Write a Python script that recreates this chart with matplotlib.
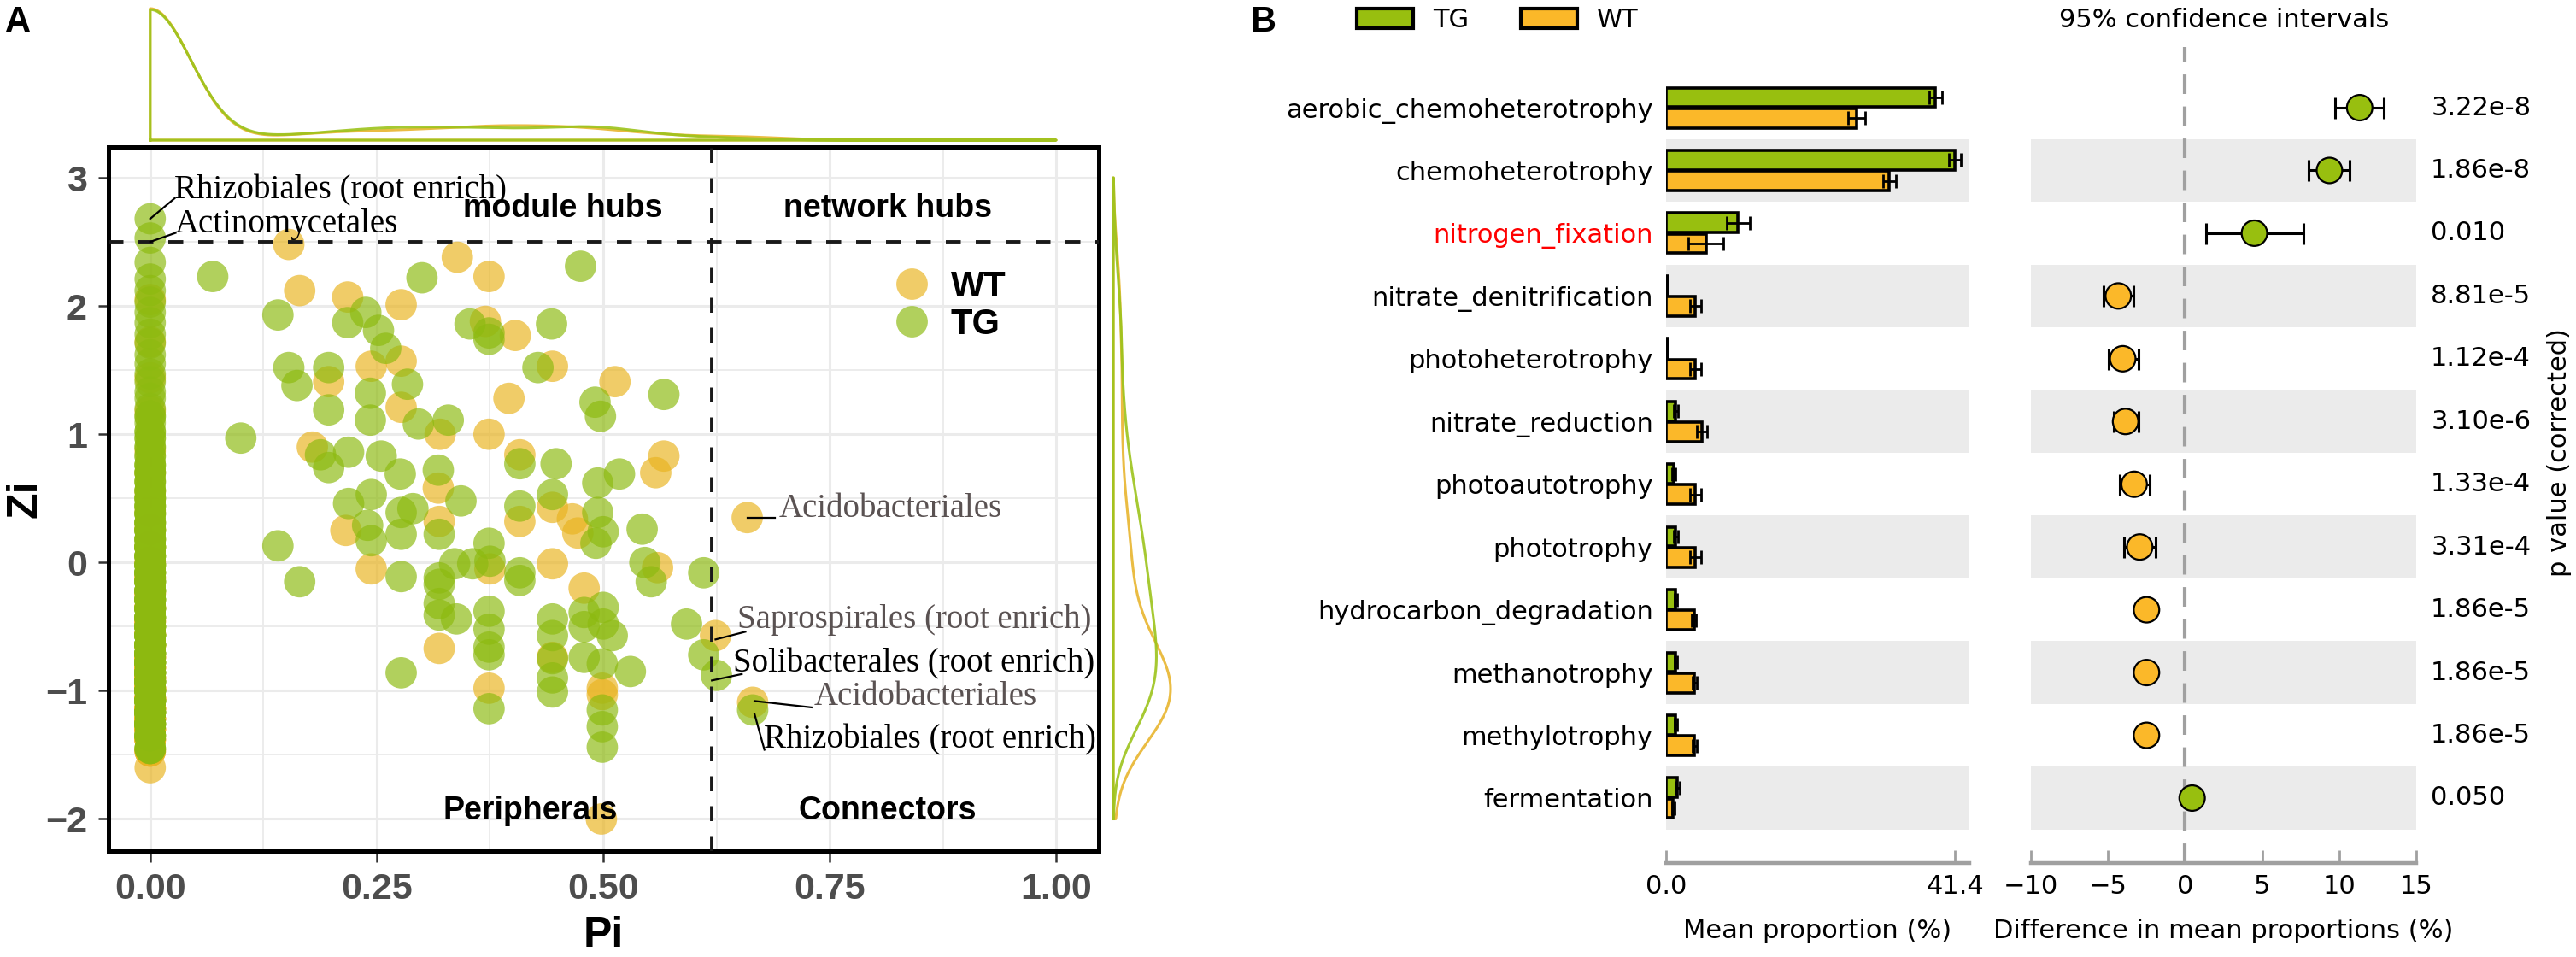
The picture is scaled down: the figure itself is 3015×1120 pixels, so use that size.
import numpy as np
import matplotlib
matplotlib.use('Agg')
import matplotlib.pyplot as plt
from matplotlib.patches import Patch
from matplotlib.lines import Line2D
import matplotlib.transforms as mtrans

# ---------------- data panel A (Zi-Pi plot) ----------------
# nodes with Pi > 0
tg_pi = [0.069, 0.141, 0.238, 0.218, 0.252, 0.260, 0.153, 0.162, 0.197, 0.243,
         0.284, 0.197, 0.243, 0.296, 0.100, 0.188, 0.197, 0.219, 0.255, 0.276,
         0.244, 0.219, 0.300,
         0.475, 0.353, 0.374, 0.374, 0.443, 0.428, 0.567, 0.491, 0.497, 0.329,
         0.408, 0.448, 0.318, 0.343, 0.494, 0.518, 0.444, 0.408,
         0.141, 0.165, 0.240, 0.244, 0.277, 0.277, 0.290, 0.277, 0.277,
         0.319, 0.494, 0.500, 0.492, 0.543, 0.374, 0.336, 0.356, 0.375, 0.408,
         0.408, 0.319, 0.319, 0.546, 0.553, 0.611, 0.319, 0.319, 0.338, 0.374,
         0.374, 0.374, 0.374, 0.374, 0.444, 0.444, 0.444, 0.444, 0.444, 0.479,
         0.479, 0.479, 0.500, 0.500, 0.510, 0.499, 0.530, 0.499, 0.499, 0.499,
         0.592, 0.611, 0.625, 0.665]
tg_zi = [2.23, 1.93, 1.95, 1.87, 1.81, 1.67, 1.52, 1.38, 1.52, 1.32,
         1.39, 1.19, 1.11, 1.08, 0.97, 0.84, 0.74, 0.86, 0.83, 0.69,
         0.53, 0.46, 2.22,
         2.31, 1.86, 1.79, 1.74, 1.86, 1.52, 1.31, 1.25, 1.14, 1.11,
         0.77, 0.77, 0.72, 0.48, 0.62, 0.69, 0.53, 0.44,
         0.13, -0.15, 0.29, 0.17, 0.22, 0.39, 0.42, -0.11, -0.86,
         0.22, 0.39, 0.24, 0.15, 0.26, 0.15, -0.01, -0.01, 0.01, -0.08,
         -0.14, -0.12, -0.17, 0.00, -0.15, -0.08, -0.32, -0.41, -0.44, -0.38,
         -0.52, -0.66, -0.72, -1.14, -0.44, -0.57, -0.75, -0.90, -1.01, -0.39,
         -0.50, -0.74, -0.35, -0.48, -0.57, -0.79, -0.85, -1.15, -1.28, -1.44,
         -0.48, -0.72, -0.88, -1.15]

wt_pi = [0.153, 0.165, 0.218, 0.277, 0.277, 0.244, 0.197, 0.277, 0.179, 0.339,
         0.374, 0.370, 0.403, 0.444, 0.396, 0.513, 0.320, 0.374, 0.408, 0.318,
         0.558, 0.567, 0.216, 0.244, 0.319, 0.408, 0.444, 0.466, 0.472, 0.375,
         0.444, 0.479, 0.560, 0.319, 0.374, 0.444, 0.499, 0.499, 0.624, 0.659,
         0.665, 0.498]
wt_zi = [2.48, 2.12, 2.07, 2.01, 1.57, 1.53, 1.41, 1.21, 0.90, 2.38,
         2.23, 1.88, 1.77, 1.53, 1.28, 1.41, 1.00, 1.00, 0.84, 0.58,
         0.70, 0.83, 0.25, -0.05, 0.32, 0.32, 0.43, 0.34, 0.23, -0.05,
         -0.01, -0.20, -0.04, -0.67, -0.98, -0.74, -0.98, -1.03, -0.57, 0.35,
         -1.09, -2.00]

# nodes with Pi = 0 (the solid column): Zi level and how many nodes share it
tg_zero_z = [2.68, 2.53, 2.34, 2.21, 2.12, 2.03, 1.95, 1.87, 1.78, 1.71, 1.62,
             1.55, 1.47, 1.41, 1.33, 1.28, 1.2, 1.14, 1.09, 1.02, 0.97, 0.9,
             0.83, 0.76, 0.7, 0.63, 0.56, 0.5, 0.44, 0.38, 0.31, 0.25, 0.18,
             0.12, 0.05, -0.02, -0.08, -0.15, -0.22, -0.29, -0.36, -0.43, -0.5,
             -0.57, -0.64, -0.71, -0.78, -0.86, -0.93, -1.0, -1.08, -1.17,
             -1.26, -1.35, -1.45]
tg_zero_n = [1, 1, 1, 1, 1, 1, 1, 1, 1, 1, 1,
             1, 1, 1, 1, 1, 1, 2, 1, 2, 2, 2,
             2, 3, 3, 3, 3, 4, 4, 4, 5, 5, 5,
             6, 6, 6, 7, 7, 7, 8, 8, 8, 9,
             9, 10, 10, 11, 11, 12, 12, 12, 11,
             9, 6, 3]
wt_zero_z = [2.05, 1.72, 1.44, 1.18, 0.87, 0.7, 0.55, 0.4, 0.26, 0.12, 0.0,
             -0.12, -0.24, -0.35, -0.46, -0.56, -0.65, -0.74, -0.82, -0.9,
             -0.98, -1.06, -1.14, -1.22, -1.3, -1.38, -1.47, -1.6]
wt_zero_n = [1, 1, 1, 1, 1, 1, 1, 1, 2, 2, 2,
             3, 3, 4, 4, 5, 6, 7, 8, 9,
             10, 10, 10, 9, 7, 5, 3, 1]

# labelled nodes: text, node (pi, zi), line end, text pos, colour
labels_a = [
    ("Rhizobiales (root enrich)", (0.0, 2.68), (0.027, 2.84), (0.027, 2.90), 'black'),
    ("Actinomycetales", (0.0, 2.50), (0.028, 2.57), (0.027, 2.64), 'black'),
    ("Acidobacteriales", (0.659, 0.35), (0.690, 0.35), (0.694, 0.42), '#5a5252'),
    ("Saprospirales (root enrich)", (0.624, -0.60), (0.657, -0.54), (0.648, -0.45), '#5a5252'),
    ("Solibacterales (root enrich)", (0.620, -0.92), (0.653, -0.87), (0.643, -0.79), 'black'),
    ("Acidobacteriales", (0.667, -1.08), (0.730, -1.13), (0.733, -1.05), '#5a5252'),
    ("Rhizobiales (root enrich)", (0.667, -1.18), (0.678, -1.46), (0.677, -1.38), 'black'),
]

# ---------------- data panel B (STAMP) ----------------
funcs = ['aerobic_chemoheterotrophy', 'chemoheterotrophy', 'nitrogen_fixation',
         'nitrate_denitrification', 'photoheterotrophy', 'nitrate_reduction',
         'photoautotrophy', 'phototrophy', 'hydrocarbon_degradation',
         'methanotrophy', 'methylotrophy', 'fermentation']
tg_mean = [38.6, 41.4, 10.3, 0.2, 0.2, 1.4, 1.1, 1.4, 1.4, 1.4, 1.4, 1.6]
tg_sd = [0.9, 0.9, 1.65, 0.1, 0.1, 0.3, 0.3, 0.3, 0.2, 0.2, 0.2, 0.3]
wt_mean = [27.3, 32.0, 5.7, 4.2, 4.2, 5.1, 4.2, 4.2, 4.0, 4.1, 4.1, 1.0]
wt_sd = [1.2, 0.9, 2.55, 0.8, 0.8, 0.75, 0.8, 0.8, 0.3, 0.3, 0.3, 0.2]
diff = [11.33, 9.37, 4.5, -4.33, -4.04, -3.86, -3.3, -2.94, -2.5, -2.5, -2.5, 0.46]
ci_lo = [9.75, 8.0, 1.38, -5.3, -4.96, -4.6, -4.24, -3.95, -2.75, -2.75, -2.75, 0.3]
ci_hi = [12.9, 10.67, 7.67, -3.37, -3.03, -3.03, -2.3, -1.93, -2.25, -2.25, -2.25, 0.62]
pvals = ['3.22e-8', '1.86e-8', '0.010', '8.81e-5', '1.12e-4', '3.10e-6',
         '1.33e-4', '3.31e-4', '1.86e-5', '1.86e-5', '1.86e-5', '0.050']

# ---------------- figure ----------------
W, H = 3015, 1120
fig = plt.figure(figsize=(W / 100, H / 100), dpi=100)


def box(x0, y0, x1, y1):
    # pixel box (top-left origin) -> figure rect
    return [x0 / W, 1 - y1 / H, (x1 - x0) / W, (y1 - y0) / H]


SANS = 'Liberation Sans'
tg_col = '#8DBA10'
wt_col = '#E9B420'
tg_line = '#9CC31B'
wt_line = '#E8B52E'

pi_tg = np.concatenate([np.zeros(sum(tg_zero_n)), tg_pi])
zi_tg = np.concatenate([np.repeat(tg_zero_z, tg_zero_n), tg_zi])
pi_wt = np.concatenate([np.zeros(sum(wt_zero_n)), wt_pi])
zi_wt = np.concatenate([np.repeat(wt_zero_z, wt_zero_n), wt_zi])

xlim_a = (-0.046, 1.047)
ylim_a = (-2.25, 3.24)

ax = fig.add_axes(box(127, 172, 1286, 996))
ax.scatter(pi_wt, zi_wt, s=700, color=wt_col, alpha=0.68, edgecolors='none', zorder=2)
ax.scatter(pi_tg, zi_tg, s=700, color=tg_col, alpha=0.68, edgecolors='none', zorder=3)
ax.set_xlim(*xlim_a)
ax.set_ylim(*ylim_a)
ax.set_xticks([0, 0.25, 0.5, 0.75, 1.0])
ax.set_xticklabels(['0.00', '0.25', '0.50', '0.75', '1.00'])
ax.set_yticks([-2, -1, 0, 1, 2, 3])
ax.set_xticks([0.125, 0.375, 0.625, 0.875], minor=True)
ax.set_yticks([-1.5, -0.5, 0.5, 1.5, 2.5], minor=True)
ax.set_axisbelow(True)
ax.grid(which='major', color='#EBEBEB', lw=2.2)
ax.grid(which='minor', color='#EBEBEB', lw=1.3)
ax.tick_params(which='minor', length=0)
ax.tick_params(which='major', direction='out', length=9, width=1.8, color='#333333',
               labelsize=31, labelcolor='#4D4D4D', pad=9)
for t in ax.get_xticklabels() + ax.get_yticklabels():
    t.set_fontfamily(SANS)
    t.set_fontweight('bold')
for s in ax.spines.values():
    s.set_linewidth(3.6)
    s.set_color('black')

ax.axhline(2.5, color='#1a1a1a', lw=2.8, dashes=(4.5, 4.5), zorder=4)
ax.axvline(0.62, color='#1a1a1a', lw=2.8, dashes=(4.5, 4.5), zorder=4)

qfont = dict(family=SANS, weight='bold', size=27, ha='center', va='center', zorder=5)
ax.text(0.455, 2.76, 'module hubs', **qfont)
ax.text(0.814, 2.76, 'network hubs', **qfont)
ax.text(0.42, -1.94, 'Peripherals', **qfont)
ax.text(0.814, -1.94, 'Connectors', **qfont)

for txt, pt, end, tp, c in labels_a:
    ax.plot([pt[0], end[0]], [pt[1], end[1]], color='black', lw=1.6, zorder=6)
    ax.text(tp[0], tp[1], txt, family='Liberation Serif', size=28, color=c,
            ha='left', va='center', zorder=6)

handles = [Line2D([], [], marker='o', ls='', ms=26.5, mfc=wt_col, mec='none', alpha=0.68),
           Line2D([], [], marker='o', ls='', ms=26.5, mfc=tg_col, mec='none', alpha=0.68)]
ax.legend(handles, ['WT', 'TG'], loc='center left', bbox_to_anchor=(0.793, 0.7745),
          frameon=False, borderpad=0, borderaxespad=0, handlelength=1.0,
          handletextpad=0.6, labelspacing=0.1,
          prop=dict(family=SANS, weight='bold', size=30))

fig.text(29 / W, 1 - 584 / H, 'Zi', rotation=90, ha='center', va='center',
         family=SANS, weight='bold', size=36)
fig.text(706 / W, 1 - 1095 / H, 'Pi', ha='center', va='center',
         family=SANS, weight='bold', size=36)
fig.text(21 / W, 1 - 26 / H, 'A', ha='center', va='center', family=SANS, weight='bold', size=30)


# marginal densities (gaussian kde)
def nrd0(x):
    x = np.asarray(x, float)
    sd = x.std(ddof=1)
    q75, q25 = np.percentile(x, [75, 25])
    lo = min(sd, (q75 - q25) / 1.34)
    if lo == 0:
        lo = sd
    return 0.9 * lo * len(x) ** -0.2


def kde(x, grid, bw=None):
    x = np.asarray(x, float)
    if bw is None:
        bw = nrd0(x)
    u = (grid[:, None] - x[None, :]) / bw
    return np.exp(-0.5 * u ** 2).sum(1) / (len(x) * bw * np.sqrt(2 * np.pi))


gx = np.linspace(0, 1, 400)
dx_tg = kde(pi_tg, gx, 0.045)
dx_wt = kde(pi_wt, gx, 0.045)
axt = fig.add_axes(box(127, 10, 1286, 164))
for d, c in [(dx_wt, wt_line), (dx_tg, tg_line)]:
    axt.plot(np.r_[0, gx, 1, 0], np.r_[0, d, 0, 0], color=c, lw=2.2, clip_on=False, alpha=0.9)
axt.set_xlim(*xlim_a)
axt.set_ylim(0, max(dx_tg.max(), dx_wt.max()))
axt.axis('off')

gy = np.linspace(-2, 3, 400)
dy_tg = kde(zi_tg, gy)
dy_wt = kde(zi_wt, gy)
axr = fig.add_axes(box(1303, 172, 1370, 996))
for d, c in [(dy_wt, wt_line), (dy_tg, tg_line)]:
    axr.plot(np.r_[0, d, 0, 0], np.r_[-2, gy, 3, -2], color=c, lw=2.2, clip_on=False, alpha=0.9)
axr.set_ylim(*ylim_a)
axr.set_xlim(0, max(dy_tg.max(), dy_wt.max()))
axr.axis('off')

# ---------------- panel B ----------------
DV = 'DejaVu Sans'
tg_bar = '#98BF0F'
wt_bar = '#FBB829'
grey = '#A0A0A0'
y = np.arange(len(funcs))
ytop, ybot = -0.967, 12.035

axb = fig.add_axes(box(1950, 55, 2305, 1010))
axc = fig.add_axes(box(2377, 55, 2828, 1010))
for a in (axb, axc):
    a.set_ylim(ybot, ytop)
    for i in y[1::2]:
        a.axhspan(i - 0.5, i + 0.5, color='#EBEBEB', zorder=0, lw=0)
    for k in ['left', 'right', 'top']:
        a.spines[k].set_visible(False)
    a.spines['bottom'].set_color(grey)
    a.spines['bottom'].set_linewidth(3.2)
    a.tick_params(axis='x', direction='in', length=11, width=2, color=grey,
                  labelsize=22, pad=9)

ekw = dict(ecolor='black', elinewidth=2, capsize=5.5, capthick=2)
axb.barh(y - 0.165, tg_mean, height=0.31, color=tg_bar, edgecolor='black', lw=2.6,
         xerr=tg_sd, error_kw=ekw, zorder=2)
axb.barh(y + 0.165, wt_mean, height=0.31, color=wt_bar, edgecolor='black', lw=2.6,
         xerr=wt_sd, error_kw=ekw, zorder=2)
axb.set_xlim(0, 43.48)
axb.set_xticks([0, 41.4])
axb.set_xticklabels(['0.0', '41.4'])
axb.set_yticks(y)
axb.set_yticklabels(funcs, fontsize=22, family=DV)
axb.tick_params(axis='y', length=0, pad=11)
axb.get_yticklabels()[2].set_color('red')

diff = np.array(diff)
lo_err = diff - np.array(ci_lo)
hi_err = np.array(ci_hi) - diff
axc.axvline(0, color=grey, lw=3, dashes=(5.5, 3.5), zorder=1)
axc.errorbar(diff, y, xerr=[lo_err, hi_err], fmt='none', ecolor='black',
             elinewidth=2.2, capsize=9, capthick=2.2, zorder=3)
pcol = [tg_bar if d > 0 else wt_bar for d in diff]
axc.scatter(diff, y, s=21.5 ** 2, c=pcol, edgecolors='black', linewidths=1.6, zorder=4)
axc.set_xlim(-10, 15)
axc.set_xticks([-10, -5, 0, 5, 10, 15])
axc.set_yticks([])
trans = mtrans.blended_transform_factory(axc.transAxes, axc.transData)
for i, p in enumerate(pvals):
    axc.text(1.038, i, p, transform=trans, ha='left', va='center', fontsize=22, family=DV)

fig.text(2127 / W, 1 - 1089 / H, 'Mean proportion (%)', ha='center', va='center', fontsize=22, family=DV)
fig.text(2602 / W, 1 - 1089 / H, 'Difference in mean proportions (%)', ha='center', va='center',
         fontsize=22, family=DV)
fig.text(2603 / W, 1 - 23 / H, '95% confidence intervals', ha='center', va='center', fontsize=22, family=DV)
fig.text(2995 / W, 1 - 530 / H, 'p value (corrected)', rotation=90, ha='center', va='center',
         fontsize=22, family=DV)

fig.legend([Patch(facecolor=tg_bar, edgecolor='black', lw=3),
            Patch(facecolor=wt_bar, edgecolor='black', lw=3)], ['TG', 'WT'],
           loc='center left', bbox_to_anchor=(1588 / W, 1 - 23.5 / H), ncol=2, frameon=False,
           handlelength=2.16, handleheight=0.82, handletextpad=0.75, columnspacing=2.0,
           borderpad=0, borderaxespad=0, prop=dict(family=DV, size=22))

fig.text(1478 / W, 1 - 26 / H, 'B', ha='center', va='center', family=SANS, weight='bold', size=30)

fig.savefig('out.png', dpi=100)
